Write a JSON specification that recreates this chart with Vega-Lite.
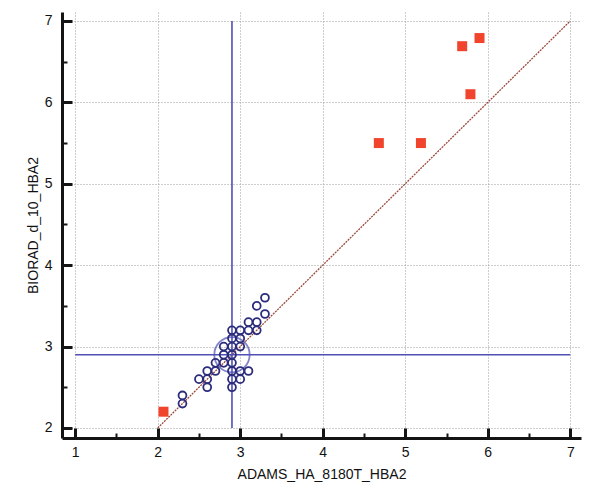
{
  "$schema": "https://vega.github.io/schema/vega-lite/v6.json",
  "width": 519,
  "height": 426,
  "autosize": {"type": "none"},
  "padding": {"left": 62, "top": 12, "right": 16, "bottom": 51},
  "background": "white",
  "config": {
    "view": {"stroke": null},
    "font": "Liberation Sans"
  },
  "datasets": {
    "pts": [
      {"adams": 3.3, "biorad": 3.6, "group": "in"},
      {"adams": 3.2, "biorad": 3.5, "group": "in"},
      {"adams": 3.3, "biorad": 3.4, "group": "in"},
      {"adams": 3.1, "biorad": 3.3, "group": "in"},
      {"adams": 3.2, "biorad": 3.3, "group": "in"},
      {"adams": 2.9, "biorad": 3.2, "group": "in"},
      {"adams": 3.0, "biorad": 3.2, "group": "in"},
      {"adams": 3.1, "biorad": 3.2, "group": "in"},
      {"adams": 3.2, "biorad": 3.2, "group": "in"},
      {"adams": 2.9, "biorad": 3.1, "group": "in"},
      {"adams": 3.0, "biorad": 3.1, "group": "in"},
      {"adams": 2.8, "biorad": 3.0, "group": "in"},
      {"adams": 2.9, "biorad": 3.0, "group": "in"},
      {"adams": 3.0, "biorad": 3.0, "group": "in"},
      {"adams": 2.8, "biorad": 2.9, "group": "in"},
      {"adams": 2.9, "biorad": 2.9, "group": "in"},
      {"adams": 2.7, "biorad": 2.8, "group": "in"},
      {"adams": 2.8, "biorad": 2.8, "group": "in"},
      {"adams": 2.9, "biorad": 2.8, "group": "in"},
      {"adams": 2.6, "biorad": 2.7, "group": "in"},
      {"adams": 2.7, "biorad": 2.7, "group": "in"},
      {"adams": 2.9, "biorad": 2.7, "group": "in"},
      {"adams": 3.0, "biorad": 2.7, "group": "in"},
      {"adams": 3.1, "biorad": 2.7, "group": "in"},
      {"adams": 2.5, "biorad": 2.6, "group": "in"},
      {"adams": 2.6, "biorad": 2.6, "group": "in"},
      {"adams": 2.9, "biorad": 2.6, "group": "in"},
      {"adams": 3.0, "biorad": 2.6, "group": "in"},
      {"adams": 2.6, "biorad": 2.5, "group": "in"},
      {"adams": 2.9, "biorad": 2.5, "group": "in"},
      {"adams": 2.3, "biorad": 2.4, "group": "in"},
      {"adams": 2.3, "biorad": 2.3, "group": "in"},
      {"adams": 2.07, "biorad": 2.2, "group": "out"},
      {"adams": 4.68, "biorad": 5.5, "group": "out"},
      {"adams": 5.19, "biorad": 5.5, "group": "out"},
      {"adams": 5.79, "biorad": 6.1, "group": "out"},
      {"adams": 5.69, "biorad": 6.69, "group": "out"},
      {"adams": 5.9, "biorad": 6.79, "group": "out"}
    ],
    "lines": [
      {"kind": "vmean", "x": 2.9, "y": 2.0, "x2": 2.9, "y2": 7.0},
      {"kind": "hmean", "x": 1.0, "y": 2.9, "x2": 7.0, "y2": 2.9},
      {"kind": "identity", "x": 2.0, "y": 2.0, "x2": 7.0, "y2": 7.0}
    ],
    "center": [{"x": 2.9, "y": 2.9}],
    "minor": [
      {"x": 1.5, "y": 2.5}, {"x": 2.5, "y": 3.5}, {"x": 3.5, "y": 4.5}
    ]
  },
  "resolve": {"axis": {"x": "independent", "y": "independent"}},
  "layer": [
    {
      "data": {"name": "center"},
      "mark": {"type": "point", "opacity": 0},
      "encoding": {
        "x": {"field": "x", "type": "quantitative",
          "scale": {"domain": [0.84, 7.13], "nice": false, "zero": false},
          "axis": {
            "orient": "bottom",
            "values": [1, 2, 3, 4, 5, 6, 7],
            "grid": true, "gridColor": "#9a9a9a", "gridDash": [1, 2], "gridWidth": 1,
            "domainColor": "#141414", "domainWidth": 3,
            "tickColor": "#141414", "tickWidth": 3, "tickSize": -10,
            "labelPadding": 17, "labelFontSize": 14, "labelColor": "#111111",
            "labelFont": "Liberation Sans", "labelFlush": false,
            "title": "ADAMS_HA_8180T_HBA2", "titleFontSize": 14, "titleFontWeight": "normal",
            "titleColor": "#111111", "titleFont": "Liberation Sans", "titlePadding": 8
          }},
        "y": {"field": "y", "type": "quantitative",
          "scale": {"domain": [1.877, 7.11], "nice": false, "zero": false},
          "axis": {
            "orient": "left",
            "values": [2, 3, 4, 5, 6, 7],
            "grid": true, "gridColor": "#9a9a9a", "gridDash": [1, 2], "gridWidth": 1,
            "domainColor": "#141414", "domainWidth": 3,
            "tickColor": "#141414", "tickWidth": 3, "tickSize": -10,
            "labelPadding": 20, "labelFontSize": 14, "labelColor": "#111111",
            "labelFont": "Liberation Sans", "labelFlush": false,
            "title": "BIORAD_d_10_HBA2", "titleFontSize": 14, "titleFontWeight": "normal",
            "titleColor": "#111111", "titleFont": "Liberation Sans", "titlePadding": 4
          }}
      }
    },
    {
      "data": {"name": "minor"},
      "mark": {"type": "point", "opacity": 0},
      "encoding": {
        "x": {"field": "x", "type": "quantitative",
          "axis": {
            "orient": "bottom",
            "values": [1.5, 2.5, 3.5, 4.5, 5.5, 6.5],
            "grid": false, "domain": false, "labels": false, "title": null,
            "tickColor": "#141414", "tickWidth": 2, "tickSize": -5
          }},
        "y": {"field": "y", "type": "quantitative",
          "axis": {
            "orient": "left",
            "values": [2.5, 3.5, 4.5, 5.5, 6.5],
            "grid": false, "domain": false, "labels": false, "title": null,
            "tickColor": "#141414", "tickWidth": 2, "tickSize": -5
          }}
      }
    },
    {
      "data": {"name": "lines"},
      "transform": [{"filter": "datum.kind === 'identity'"}],
      "mark": {"type": "rule", "color": "#9c4a3c", "strokeWidth": 1.3, "strokeDash": [2, 1]},
      "encoding": {
        "x": {"field": "x", "type": "quantitative", "axis": null},
        "y": {"field": "y", "type": "quantitative", "axis": null},
        "x2": {"field": "x2"},
        "y2": {"field": "y2"}
      }
    },
    {
      "data": {"name": "lines"},
      "transform": [{"filter": "datum.kind !== 'identity'"}],
      "mark": {"type": "rule", "color": "#5050b4", "strokeWidth": 1.6},
      "encoding": {
        "x": {"field": "x", "type": "quantitative", "axis": null},
        "y": {"field": "y", "type": "quantitative", "axis": null},
        "x2": {"field": "x2"},
        "y2": {"field": "y2"}
      }
    },
    {
      "data": {"name": "center"},
      "mark": {"type": "point", "shape": "circle", "filled": false, "color": "#5050b4", "strokeWidth": 1.8, "size": 1250},
      "encoding": {
        "x": {"field": "x", "type": "quantitative", "axis": null},
        "y": {"field": "y", "type": "quantitative", "axis": null}
      }
    },
    {
      "data": {"name": "pts"},
      "transform": [{"filter": "datum.group === 'in'"}],
      "mark": {"type": "point", "shape": "circle", "filled": false, "color": "#2c2c7c", "strokeWidth": 1.8, "size": 62, "opacity": 1},
      "encoding": {
        "x": {"field": "adams", "type": "quantitative", "axis": null},
        "y": {"field": "biorad", "type": "quantitative", "axis": null}
      }
    },
    {
      "data": {"name": "pts"},
      "transform": [{"filter": "datum.group === 'out'"}],
      "mark": {"type": "point", "shape": "square", "filled": true, "color": "#f0452c", "size": 100, "opacity": 1},
      "encoding": {
        "x": {"field": "adams", "type": "quantitative", "axis": null},
        "y": {"field": "biorad", "type": "quantitative", "axis": null}
      }
    }
  ]
}
